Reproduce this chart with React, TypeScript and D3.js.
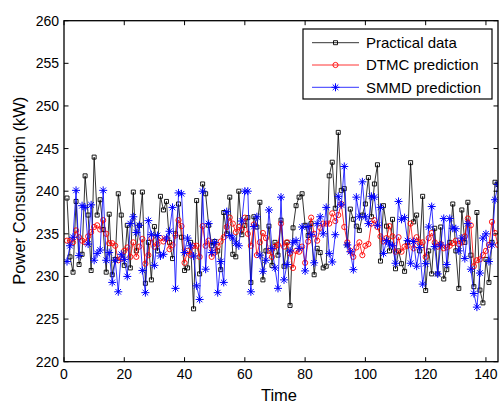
import { useRef, useEffect } from "react";
import * as d3 from "d3";

// Power consumption samples, time steps 1..144
const practical = [
  239.2, 232.3, 230.5, 238.8, 231.4, 232.6, 241.8, 237.2, 230.7, 244.0,
  237.2, 239.0, 235.5, 230.5, 237.3, 230.2, 232.0, 239.7, 237.2, 231.3,
  236.0, 231.0, 239.9, 233.0, 236.0, 239.9, 229.2, 234.0, 229.6, 235.85,
  233.0, 239.4, 237.8, 238.8, 234.0, 232.1, 235.0, 238.5, 234.6, 230.7,
  231.0, 234.0, 226.2, 238.9, 230.3, 240.85, 239.7, 236.0, 233.6, 234.1,
  233.0, 230.8, 237.5, 235.0, 239.3, 232.6, 232.3, 240.0, 234.9, 236.0,
  236.9, 229.3, 237.0, 235.8, 238.7, 229.6, 233.0, 235.9, 231.3, 234.0,
  232.5, 236.6, 231.2, 234.0, 226.6, 235.7, 238.3, 239.3, 239.7, 236.0,
  234.8, 236.2, 230.2, 233.3, 232.8, 231.0, 231.2, 241.8, 243.4, 238.0,
  246.9, 240.1, 240.3, 233.7, 237.9, 236.7, 235.9, 235.4, 237.2, 238.5,
  241.6, 237.0, 240.85, 243.1, 231.8, 238.3, 235.9, 233.0, 236.7, 230.9,
  233.0, 231.5, 230.6, 234.0, 243.35, 236.4, 237.2, 233.0, 239.4, 228.35,
  233.0, 230.3, 235.65, 230.3, 235.8, 229.7, 230.8, 234.0, 238.5, 233.0,
  228.6, 237.8, 234.0, 238.7, 232.5, 228.8, 237.5, 228.4, 226.9, 232.0,
  229.3, 234.0, 241.05, 240.8,
];

const dtmc = [
  234.2, 234.2, 234.0, 235.4, 234.6, 234.2, 234.0, 234.7, 235.2, 235.8,
  236.0, 235.5, 236.6, 235.0, 233.9, 233.9, 233.6, 231.9, 232.1, 233.0,
  233.4, 232.3, 234.0, 232.3, 233.5, 234.4, 231.5, 232.5, 234.5, 233.5,
  233.8, 234.5, 234.1, 234.4, 233.2, 233.7, 234.8, 236.6, 235.9, 231.6,
  233.0, 232.5, 233.6, 233.6, 232.3, 235.9, 233.6, 234.2, 232.3, 232.8,
  233.5, 234.1, 234.6, 235.8, 236.9, 236.2, 235.2, 235.8, 235.5, 236.9,
  235.0, 233.6, 236.1, 232.5, 234.0, 235.1, 234.5, 233.0, 232.3, 233.5,
  233.7, 236.2, 233.5, 234.0, 232.7, 231.0, 233.0, 232.9, 233.5, 231.6,
  234.1, 236.9, 235.0, 234.2, 235.7, 236.2, 236.2, 236.2, 237.4, 236.5,
  237.2, 238.5, 235.8, 234.0, 233.0, 232.3, 233.4, 234.0, 232.5, 233.6,
  233.8, 236.2, 236.6, 235.8, 234.7, 234.1, 234.5, 235.9, 234.7, 232.9,
  234.6, 232.9, 233.5, 233.6, 236.2, 233.3, 234.6, 234.0, 234.0, 232.3,
  234.5, 235.1, 234.0, 233.5, 233.8, 233.3, 233.4, 233.6, 233.9, 234.2,
  233.8, 234.0, 234.7, 236.8, 236.0, 231.2, 231.9, 232.0, 232.5, 233.0,
  233.7, 236.4, 235.1, 233.7,
];

const smmd = [
  231.75, 233.6, 234.6, 240.1, 232.45, 238.3, 238.1, 233.8, 238.4, 231.9,
  232.7, 233.1, 240.1, 231.9, 232.8, 229.3, 231.9, 228.2, 232.6, 232.0,
  230.0, 236.2, 237.0, 235.15, 236.0, 230.7, 228.1, 236.55, 234.9, 231.3,
  234.8, 232.4, 232.6, 234.5, 235.3, 238.1, 228.6, 239.8, 239.7, 232.8,
  234.5, 233.6, 232.4, 228.9, 227.3, 240.0, 230.85, 236.2, 232.8, 234.0,
  228.1, 231.75, 229.3, 237.6, 234.8, 234.5, 233.9, 233.6, 236.5, 240.0,
  240.0, 228.2, 235.85, 237.0, 232.5, 230.6, 231.9, 237.8, 233.3, 231.0,
  228.6, 239.3, 229.6, 231.4, 233.0, 234.0, 234.2, 233.3, 235.8, 230.65,
  235.85, 234.9, 231.6, 236.2, 237.0, 235.0, 238.1, 232.7, 231.7, 234.9,
  239.4, 238.4, 242.9, 233.7, 232.9, 230.8, 239.3, 237.0, 241.1, 237.0,
  236.2, 239.4, 239.3, 236.0, 238.1, 232.7, 234.2, 233.8, 233.6, 231.55,
  238.8, 236.7, 236.9, 234.2, 231.55, 234.1, 231.2, 233.4, 229.1, 231.5,
  235.8, 238.2, 233.5, 230.3, 233.7, 236.8, 231.4, 236.8, 235.65, 235.6,
  233.0, 234.5, 232.1, 236.2, 230.85, 228.0, 226.4, 230.4, 234.5, 235.0,
  231.75, 233.7, 239.0, 240.8,
];

const seriesNames = ["Practical data", "DTMC prediction", "SMMD prediction"];
const xTicks = [0, 20, 40, 60, 80, 100, 120, 140];
const yTicks = [220, 225, 230, 235, 240, 245, 250, 255, 260];

const W = 499;
const H = 403;
const FONT = "'Liberation Sans', Arial, Helvetica, sans-serif";

export default function App() {
  const ref = useRef<SVGSVGElement>(null);

  useEffect(() => {
    const svg = d3.select(ref.current);
    svg.selectAll("*").remove();

    const margin = { left: 64, right: 1, top: 20.7, bottom: 41.3 };
    const x = d3.scaleLinear().domain([0, 144]).range([margin.left, W - margin.right]);
    const y = d3.scaleLinear().domain([220, 260]).range([H - margin.bottom, margin.top]);

    svg.append("rect").attr("width", W).attr("height", H).attr("fill", "#fff");

    const x0 = x.range()[0], x1 = x.range()[1];
    const y0 = y.range()[0], y1 = y.range()[1];

    // clip so markers stay inside axes
    svg.append("clipPath").attr("id", "plotclip")
      .append("rect").attr("x", x0).attr("y", y1).attr("width", x1 - x0).attr("height", y0 - y1);

    const plot = svg.append("g").attr("clip-path", "url(#plotclip)");

    const square = "M-2,-2H2V2H-2Z";
    const star = "M-4,0H4M0,-4V4M-2.8,-2.8L2.8,2.8M-2.8,2.8L2.8,-2.8";

    const series = [
      { name: seriesNames[0], data: practical, color: "#000", marker: "square" },
      { name: seriesNames[1], data: dtmc, color: "#ff0000", marker: "circle" },
      { name: seriesNames[2], data: smmd, color: "#0000ff", marker: "star" },
    ];

    const line = d3.line<number>().x((d, i) => x(i + 1)).y((d) => y(d));

    function drawMarker(g: any, kind: string, color: string) {
      if (kind === "circle") {
        g.append("circle").attr("r", 2.6).attr("fill", "none").attr("stroke", color).attr("stroke-width", 0.9);
      } else {
        g.append("path").attr("d", kind === "square" ? square : star)
          .attr("fill", "none").attr("stroke", color).attr("stroke-width", kind === "star" ? 1 : 0.9);
      }
    }

    series.forEach((s) => {
      plot.append("path").datum(s.data).attr("d", line)
        .attr("fill", "none").attr("stroke", s.color).attr("stroke-width", 0.8);
      plot.append("g").selectAll("g").data(s.data).join("g")
        .attr("transform", (d, i) => `translate(${x(i + 1)},${y(d)})`)
        .each(function () { drawMarker(d3.select(this), s.marker, s.color); });
    });

    // axes box
    const ax = svg.append("g").attr("font-family", FONT).attr("font-size", 14);
    ax.append("rect").attr("x", x0).attr("y", y1).attr("width", x1 - x0).attr("height", y0 - y1)
      .attr("fill", "none").attr("stroke", "#000").attr("stroke-width", 1.3);

    const tl = 4.5;
    xTicks.forEach((t) => {
      ax.append("line").attr("x1", x(t)).attr("x2", x(t)).attr("y1", y0).attr("y2", y0 - tl).attr("stroke", "#000");
      ax.append("line").attr("x1", x(t)).attr("x2", x(t)).attr("y1", y1).attr("y2", y1 + tl).attr("stroke", "#000");
      ax.append("text").attr("x", x(t)).attr("y", y0 + 17.3).attr("text-anchor", "middle").text(t);
    });
    yTicks.forEach((t) => {
      ax.append("line").attr("x1", x0).attr("x2", x0 + tl).attr("y1", y(t)).attr("y2", y(t)).attr("stroke", "#000");
      ax.append("line").attr("x1", x1).attr("x2", x1 - tl).attr("y1", y(t)).attr("y2", y(t)).attr("stroke", "#000");
      ax.append("text").attr("x", x0 - 5).attr("y", y(t)).attr("dy", "0.36em").attr("text-anchor", "end").text(t);
    });

    ax.append("text").attr("x", (x0 + x1) / 2 - 2).attr("y", 401).attr("text-anchor", "middle")
      .attr("font-size", 16.5).text("Time");
    ax.append("text").attr("transform", `translate(25,${(y0 + y1) / 2 - 0.5}) rotate(-90)`)
      .attr("text-anchor", "middle").attr("font-size", 16.5).text("Power Consumption (kW)");

    // legend
    const lg = svg.append("g").attr("font-family", FONT).attr("font-size", 15);
    lg.append("rect").attr("x", 303).attr("y", 29).attr("width", 189).attr("height", 70)
      .attr("fill", "#fff").attr("stroke", "#000").attr("stroke-width", 1.2);
    series.forEach((s, i) => {
      const cy = 42.7 + i * 22.3;
      lg.append("line").attr("x1", 312).attr("x2", 359).attr("y1", cy).attr("y2", cy)
        .attr("stroke", s.color).attr("stroke-width", 0.8);
      const mg = lg.append("g").attr("transform", `translate(335.5,${cy})`);
      drawMarker(mg, s.marker, s.color);
      lg.append("text").attr("x", 366).attr("y", cy).attr("dy", "0.36em").text(s.name);
    });
  }, []);

  return (
    <div style={{ position: "absolute", left: 0, top: 0 }}>
      <svg ref={ref} width={W} height={H}></svg>
    </div>
  );
}
